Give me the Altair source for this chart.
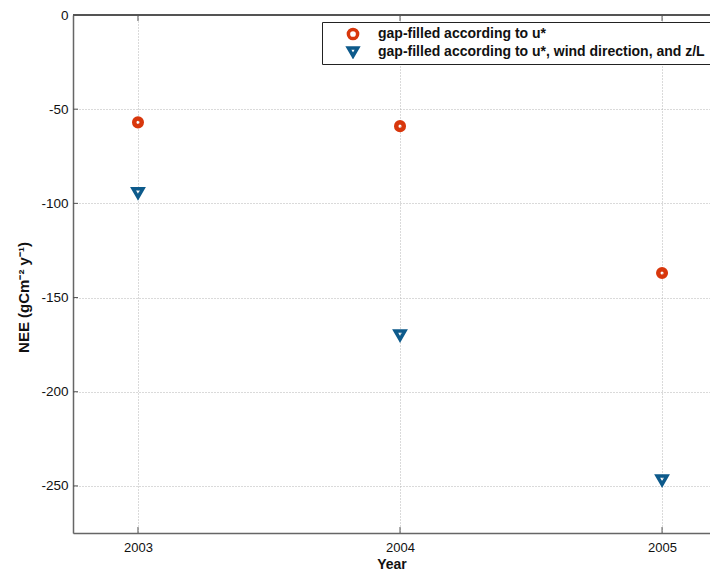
import altair as alt
import pandas as pd

years = [2003, 2004, 2005]
ustar_only = [-57, -59, -137]
ustar_wind_zl = [-94.5, -170, -247]
series_names = ["gap-filled according to u*",
                "gap-filled according to u*, wind direction, and z/L"]
y_ticks = [0, -50, -100, -150, -200, -250]
x_ticks = [2003, 2004, 2005]

df_a = pd.DataFrame({"year": years, "nee": ustar_only, "series": series_names[0]})
df_b = pd.DataFrame({"year": years, "nee": ustar_wind_zl, "series": series_names[1]})

W, H = 637, 518
FONT = "Liberation Sans"
RED, BLUE = "#d8370c", "#0d5a8b"

xscale = alt.Scale(domain=[2002.752, 2005.183], nice=False, zero=False)
yscale = alt.Scale(domain=[-275, 0], nice=False, zero=False)

x_enc = alt.X("year:Q", scale=xscale,
              axis=alt.Axis(values=x_ticks, format="d", title="Year", ticks=False,
                            grid=True, gridDash=[1, 2], gridColor="#b5b5b5",
                            labelFontSize=13, labelPadding=8, titleFontSize=14,
                            titleFontWeight="bold", titlePadding=3,
                            domainColor="#666666", domainWidth=1.5))
y_enc = alt.Y("nee:Q", scale=yscale,
              axis=alt.Axis(values=y_ticks, title="NEE (gCm⁻² y⁻¹)", ticks=False,
                            labelExpr="replace(datum.label, '−', '-')",
                            grid=True, gridDash=[1, 2], gridColor="#b5b5b5",
                            labelFontSize=13.5, labelPadding=5, titleFontSize=15,
                            titleFontWeight="bold", titlePadding=9, titleY=282,
                            domainColor="#666666", domainWidth=1.5))
color_enc = alt.Color("series:N",
                      scale=alt.Scale(domain=series_names, range=[RED, BLUE]),
                      legend=alt.Legend(title=None, orient="none", legendX=249, legendY=7,
                                        fillColor="white", strokeColor="#222222",
                                        padding=5, labelFontSize=14, labelFontWeight="bold",
                                        labelLimit=800, symbolStrokeWidth=3.5, symbolSize=85,
                                        clipHeight=14, rowPadding=4,
                                        labelOffset=18, symbolOffset=19))
shape_enc = alt.Shape("series:N",
                      scale=alt.Scale(domain=series_names, range=["circle", "triangle-down"]))

pts_a = alt.Chart(df_a).mark_point(filled=False, opacity=1, size=57, strokeWidth=4.5).encode(
    x=x_enc, y=y_enc, color=color_enc, shape=shape_enc)
pts_b = alt.Chart(df_b).mark_point(filled=False, opacity=1, size=95, strokeWidth=3.5).encode(
    x=x_enc, y=y_enc, color=color_enc, shape=shape_enc)

ytick_df = pd.DataFrame({"v": y_ticks})
xtick_df = pd.DataFrame({"v": x_ticks})

ytl = alt.Chart(ytick_df).mark_rule(color="#555555").encode(
    y=alt.Y("v:Q", scale=yscale), x=alt.value(0), x2=alt.value(5))
xtb = alt.Chart(xtick_df).mark_rule(color="#555555").encode(
    x=alt.X("v:Q", scale=xscale), y=alt.value(H), y2=alt.value(H - 6))
xtt = alt.Chart(xtick_df).mark_rule(color="#555555").encode(
    x=alt.X("v:Q", scale=xscale), y=alt.value(0), y2=alt.value(6))
top_border = alt.Chart(ytick_df).mark_rule(color="#555555", strokeWidth=1.5).encode(
    x=alt.value(0), x2=alt.value(W), y=alt.value(0))

chart = alt.layer(ytl, xtb, xtt, top_border, pts_a, pts_b).properties(
    width=W, height=H,
    autosize=alt.AutoSizeParams(type="none"),
    padding={"left": 65, "top": 7, "right": 0, "bottom": 40},
).configure_view(stroke=None).configure(
    font=FONT
).configure_axis(labelFont=FONT, titleFont=FONT, labelColor="#111111", titleColor="#111111"
).configure_legend(labelFont=FONT, labelColor="#111111")

chart.save("out.html", embed_options={"renderer": "svg", "actions": False})
